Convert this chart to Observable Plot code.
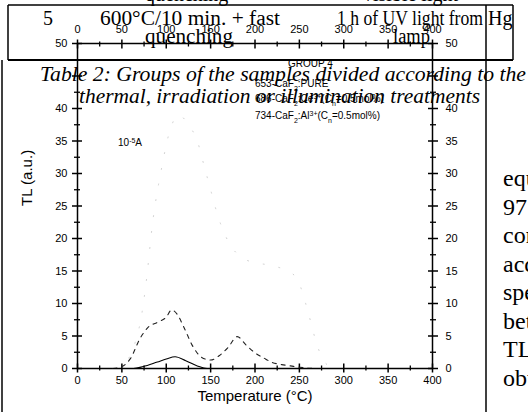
<!DOCTYPE html>
<html><head><meta charset="utf-8">
<script src="https://cdn.jsdelivr.net/npm/d3@7"></script>
<script src="https://cdn.jsdelivr.net/npm/@observablehq/plot@0.6"></script>
<style>
html,body{margin:0;padding:0;background:#fff;}
#wrap{position:relative;width:528px;height:412px;overflow:hidden;background:#fff;}
#wrap svg{position:absolute;left:0;top:0;}
</style></head><body><div id="wrap"></div>
<script>
// ---- data ----
const xMajor = [0, 50, 100, 150, 200, 250, 300, 350, 400];
const xMinor = [25, 75, 125, 175, 225, 275, 325, 375];
const yMajor = [0, 5, 10, 15, 20, 25, 30, 35, 40, 45, 50];
const yMinor = [2.5, 7.5, 12.5, 17.5, 22.5, 27.5, 32.5, 37.5, 42.5, 47.5];
const yLabels = [0, 5, 10, 15, 20, 25, 30, 35, 40, 50];

// 653-CaF2:PURE (solid)
const solidT  = [40, 50, 63, 74, 90, 100, 110, 122, 135, 146, 160, 200, 250, 300, 350, 400];
const solidTL = [0, 0, 0, 0.3, 1.0, 1.45, 1.8, 1.2, 0.4, 0, 0, 0, 0, 0, 0, 0];

// 686-CaF2:Ce3+ (dashed)
const dashT  = [40, 50, 60, 70, 80, 90, 100, 106, 112, 120, 130, 140, 150, 160, 170, 180, 190, 200, 210, 220, 230, 240, 250, 260, 270];
const dashTL = [0, 0.3, 1.6, 4.5, 6.4, 7.1, 7.9, 9.0, 8.4, 6.3, 3.4, 1.7, 1.3, 2.0, 3.3, 4.9, 3.6, 2.4, 1.6, 0.9, 0.6, 0.4, 0.2, 0.05, 0];

// 734-CaF2:Al3+ (faint dotted)
const dotT  = [45, 55, 65, 72, 78, 84, 95, 105, 114, 125, 135, 143, 150, 157, 170, 186, 200, 220, 243, 251, 256, 260, 268, 276, 285, 295];
const dotTL = [0, 1, 4, 8, 14, 21.7, 31, 37, 39, 37.5, 35, 31, 27.5, 24, 19.5, 17, 16.3, 15.8, 14.5, 12.7, 10.5, 8.6, 4.5, 1.5, 0.3, 0];

const solid = solidT.map((t, i) => ({t, v: solidTL[i]}));
const dashed = dashT.map((t, i) => ({t, v: dashTL[i]}));
const dotted = dotT.map((t, i) => ({t, v: dotTL[i]}));

const yFmt = d => yLabels.includes(d) ? String(d) : "";
const none = () => "";

const chart = Plot.plot({
  width: 528, height: 412,
  marginLeft: 77, marginRight: 96, marginTop: 43, marginBottom: 44,
  style: {fontFamily: "'Liberation Sans', Arial, sans-serif", fontSize: "11px", background: "transparent", color: "#000"},
  x: {domain: [0, 400]},
  y: {domain: [0, 50]},
  marks: [
    Plot.frame({strokeWidth: 1.5}),
    Plot.axisX({anchor: "bottom", ticks: xMajor, tickSize: 9, dy: -4.5, tickPadding: 3, strokeWidth: 1.5, label: null}),
    Plot.axisX({anchor: "bottom", ticks: xMinor, tickSize: 5, dy: -2.5, tickFormat: none, strokeWidth: 1.3, label: null}),
    Plot.axisX({anchor: "top", ticks: xMajor, tickSize: 9, dy: 4.5, tickPadding: 6, strokeWidth: 1.5, label: null}),
    Plot.axisX({anchor: "top", ticks: xMinor, tickSize: 5, dy: 2.5, tickFormat: none, strokeWidth: 1.3, label: null}),
    Plot.axisY({anchor: "left", ticks: yMajor, tickSize: 10, dx: 5, tickPadding: 5, tickFormat: yFmt, strokeWidth: 1.5, label: null}),
    Plot.axisY({anchor: "left", ticks: yMinor, tickSize: 6, dx: 3, tickFormat: none, strokeWidth: 1.3, label: null}),
    Plot.axisY({anchor: "right", ticks: yMajor, tickSize: 10, dx: -5, tickPadding: 8, tickFormat: yFmt, strokeWidth: 1.5, label: null}),
    Plot.axisY({anchor: "right", ticks: yMinor, tickSize: 6, dx: -3, tickFormat: none, strokeWidth: 1.3, label: null}),
    Plot.line(dotted, {x: "t", y: "v", stroke: "#cfcfcf", strokeWidth: 1, strokeDasharray: "1,15", curve: "monotone-x"}),
    Plot.line(dashed, {x: "t", y: "v", stroke: "#222", strokeWidth: 1.1, strokeDasharray: "4,5", curve: "monotone-x"}),
    Plot.line(solid, {x: "t", y: "v", stroke: "#000", strokeWidth: 1.1, curve: "monotone-x"}),
    Plot.text(["Temperature (°C)"], {frameAnchor: "bottom", dy: 32, fontSize: 15}),
    Plot.text(["TL (a.u.)"], {frameAnchor: "left", rotate: -90, dx: -50, fontSize: 15})
  ]
});
document.getElementById("wrap").appendChild(chart);

// ---- scanned-page overlay (table row, caption, legend, text column) ----
const serif = "'Liberation Serif', 'Times New Roman', serif";
const sans = "'Liberation Sans', Arial, sans-serif";
const sub = s => `<tspan baseline-shift="sub" font-size="7">${s}</tspan>`;
const sup = s => `<tspan baseline-shift="super" font-size="7">${s}</tspan>`;
const colWords = ["equ", "97", "con", "acc", "spe", "bet", "TL", "obt"];
const colText = colWords.map((w, i) => `<text x="503" y="${186 + 28.5 * i}">${w}</text>`).join("");

const overlay = `
<svg width="528" height="412" xmlns="http://www.w3.org/2000/svg" style="pointer-events:none">
  <g stroke="#000" fill="none">
    <line x1="8" y1="5" x2="513" y2="5" stroke-width="1.5"/>
    <line x1="8" y1="60" x2="513" y2="60" stroke-width="2"/>
    <line x1="8" y1="5" x2="8" y2="60" stroke-width="1.5"/>
    <line x1="513" y1="5" x2="513" y2="60" stroke-width="1.5"/>
    <line x1="486" y1="5" x2="486" y2="412" stroke-width="1.5"/>
    <line x1="2" y1="60" x2="2" y2="412" stroke-width="1.5"/>
  </g>
  <g font-family="${serif}" font-size="20" fill="#000">
    <text x="145" y="1">quenching</text>
    <text x="363" y="1">visible light</text>
    <text x="43" y="25">5</text>
    <text x="100" y="25" textLength="180" lengthAdjust="spacingAndGlyphs">600°C/10 min. + fast</text>
    <text x="337" y="25" textLength="146" lengthAdjust="spacingAndGlyphs">1 h of UV light from</text>
    <text x="488" y="25">Hg</text>
    <text x="145" y="43" textLength="88" lengthAdjust="spacingAndGlyphs">quenching</text>
    <text x="393" y="43" textLength="37" lengthAdjust="spacingAndGlyphs">lamp</text>
    <text x="40" y="81" font-style="italic" textLength="486" lengthAdjust="spacingAndGlyphs">Table 2: Groups of the samples divided according to the</text>
    <text x="79" y="103" font-style="italic" textLength="401" lengthAdjust="spacingAndGlyphs">thermal, irradiation or illumination treatments</text>
  </g>
  <g font-family="${serif}" font-size="24" fill="#000">${colText}</g>
  <g font-family="${sans}" font-size="10" fill="#000">
    <text x="288" y="67">GROUP 4</text>
    <text x="255" y="87">653-CaF${sub("2")}:PURE</text>
    <text x="255" y="102">686-CaF${sub("2")}:Ce${sup("3+")}(C${sub("n")}=0.5mol%)</text>
    <text x="255" y="119">734-CaF${sub("2")}:Al${sup("3+")}(C${sub("n")}=0.5mol%)</text>
    <text x="118" y="146">10${sup("-5")}A</text>
  </g>
</svg>`;
document.getElementById("wrap").insertAdjacentHTML("beforeend", overlay);
</script>
</body></html>
